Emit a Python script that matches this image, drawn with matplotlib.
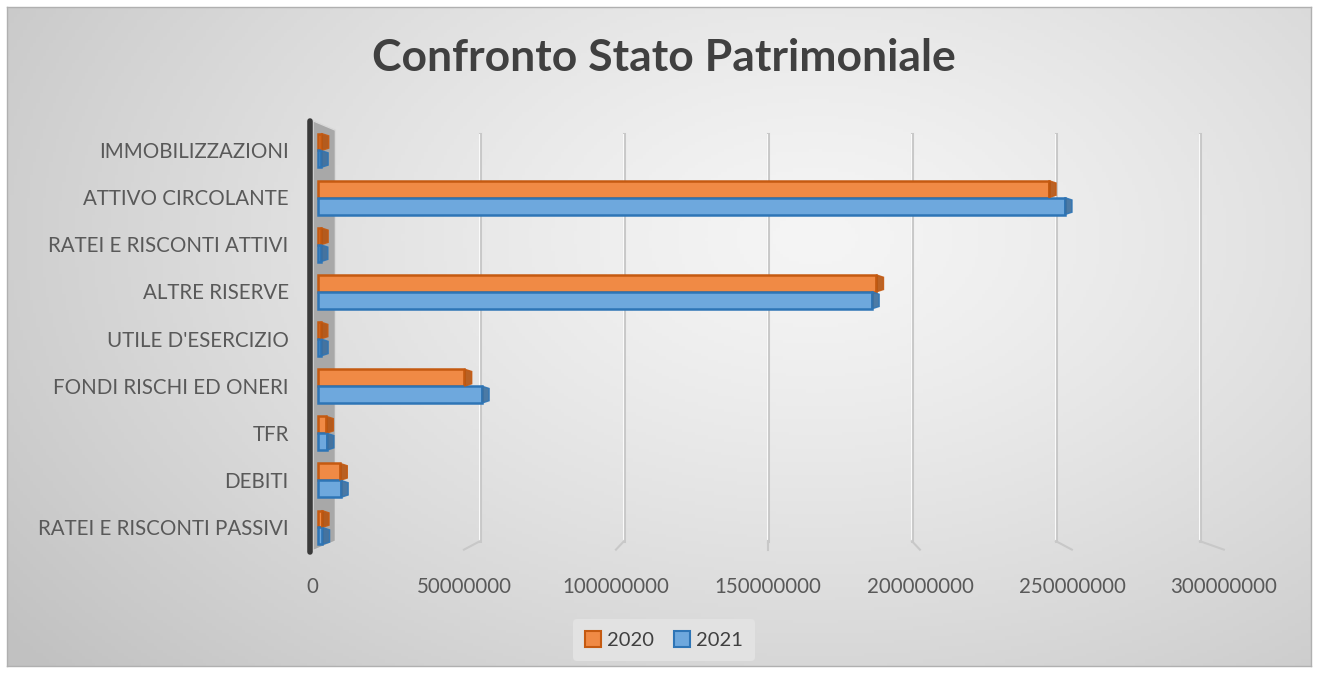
import numpy as np
import matplotlib.pyplot as plt
from matplotlib.patches import Patch, Polygon

# dati
categorie = ['IMMOBILIZZAZIONI', 'ATTIVO CIRCOLANTE', 'RATEI E RISCONTI ATTIVI',
             'ALTRE RISERVE', "UTILE D'ESERCIZIO", 'FONDI RISCHI ED ONERI',
             'TFR', 'DEBITI', 'RATEI E RISCONTI PASSIVI']
val_2020 = [1.2e6, 252.0e6, 1.0e6, 192.5e6, 0.9e6, 50.5e6, 2.8e6, 7.6e6, 1.3e6]
val_2021 = [1.0e6, 257.5e6, 0.9e6, 191.0e6, 1.0e6, 56.5e6, 3.0e6, 7.9e6, 1.5e6]
anni = ['2020', '2021']
xticks = [0, 50000000, 100000000, 150000000, 200000000, 250000000, 300000000]

W, H = 1318, 673
fig = plt.figure(figsize=(W / 100, H / 100), dpi=100)
fig.patch.set_facecolor('white')

# sfondo con gradiente radiale (stile Excel)
bg = fig.add_axes([7 / W, 7 / H, (W - 14) / W, (H - 14) / H])
gx, gy = np.meshgrid(np.linspace(0, 1, 400), np.linspace(0, 1, 200))
r = np.sqrt(((gx - 0.62) / 0.75) ** 2 + ((gy - 0.35) / 0.95) ** 2)
g = np.clip(0.96 - 0.19 * r ** 1.3, 0.76, 0.96)
bg.imshow(np.dstack([g, g, g]), aspect='auto', extent=[0, 1, 1, 0])
bg.set_xticks([])
bg.set_yticks([])
for s in bg.spines.values():
    s.set_color('#b0b0b0')
    s.set_linewidth(1)

# assi principali (0 a 318 px, 2.9e-6 px per unità)
scala = 2.9e-6
x0_px, x1_px, top_px, bot_px = 306, 1290, 120, 552
ax = fig.add_axes([x0_px / W, 1 - bot_px / H, (x1_px - x0_px) / W, (bot_px - top_px) / H])
ax.patch.set_alpha(0)
ax.set_xlim((x0_px - 318) / scala, (x1_px - 318) / scala)
ax.set_ylim(8.53, -0.637)

# griglia verticale (piano di fondo, prospettiva)
for t in xticks[1:]:
    xt = t * 0.993 + 6.2e6
    dx = (t - 150e6) * 0.16e-6 / scala
    ax.plot([xt, xt], [-0.35, 8.3], color='#c8c8c8', lw=2.2, zorder=1)
    ax.plot([xt - 0.4e6, xt - 0.4e6], [-0.35, 8.3], color='#fafafa', lw=0.8, zorder=1)
    ax.plot([xt, xt + dx], [8.3, 8.48], color='#c8c8c8', lw=1.5, zorder=1)

# parete laterale
ax.add_patch(Polygon([[-1.7e6, -0.62], [6e6, -0.42], [6e6, 8.3], [-1.7e6, 8.5]],
                     closed=True, facecolor='#a8a8a8', edgecolor='#d8d8d8', lw=1, zorder=2,
                     clip_on=False))
ax.plot([-2.6e6, -2.6e6], [-0.62, 8.52], color='#3a3a3a', lw=4, zorder=3,
        solid_capstyle='round', clip_on=False)

y = np.arange(len(categorie))
h = 0.36
colori = [('#f08a45', '#c55a11', '#b5530f'), ('#6ea8dd', '#2e75b6', '#3a6e9e')]
for k, (vals, off) in enumerate([(val_2020, -0.17), (val_2021, 0.19)]):
    fc, ec, dc = colori[k]
    ax.barh(y + off, vals, height=h, color=fc, edgecolor=ec, linewidth=1.8, zorder=4)
    # faccia di profondità a destra della barra
    for yi, v in zip(y, vals):
        yc = yi + off
        ax.add_patch(Polygon([[v, yc - h / 2], [v + 2.5e6, yc - h / 2 + 0.05],
                              [v + 2.5e6, yc + h / 2 - 0.05], [v, yc + h / 2]],
                             closed=True, facecolor=dc, edgecolor=ec, lw=1, alpha=0.9,
                             zorder=5))

ax.set_yticks(y)
ax.set_yticklabels(categorie)
ax.tick_params(axis='y', length=0, pad=12.5, labelsize=14.8, labelcolor='#595959')
for lab in ax.get_yticklabels():
    lab.set_fontfamily('Lato')
ax.set_xticks([])
for s in ax.spines.values():
    s.set_visible(False)

# etichette dell'asse x sul piano anteriore (passo più largo)
k_lab, off_lab = 1.0483, -2.069e6
sec = ax.secondary_xaxis('bottom', functions=(lambda u: (u - off_lab) / k_lab,
                                              lambda s: s * k_lab + off_lab))
sec.set_xticks(xticks)
sec.set_xticklabels([str(t) for t in xticks])
sec.tick_params(axis='x', length=0, pad=18, labelsize=14.8, labelcolor='#595959')
for lab in sec.get_xticklabels():
    lab.set_fontfamily('Lato')
sec.spines['bottom'].set_visible(False)

fig.text(664 / W, 1 - 58 / H, 'Confronto Stato Patrimoniale', ha='center', va='center',
         fontsize=32, fontweight='bold', color='#404040', family='Lato')

handles = [Patch(facecolor=colori[i][0], edgecolor=colori[i][1], lw=1.5, label=anni[i])
           for i in range(2)]
leg = fig.legend(handles=handles, loc='center', bbox_to_anchor=(664 / W, 1 - 640 / H),
                 ncol=2, frameon=True, handlelength=0.8, handleheight=0.8,
                 handletextpad=0.3, columnspacing=1.0, borderpad=0.6,
                 prop={'family': 'Lato', 'size': 14.5})
leg.get_frame().set_facecolor('#e2e2e2')
leg.get_frame().set_edgecolor('none')
leg.get_frame().set_alpha(1)
for t in leg.get_texts():
    t.set_color('#404040')

fig.savefig('out.png', dpi=100)
